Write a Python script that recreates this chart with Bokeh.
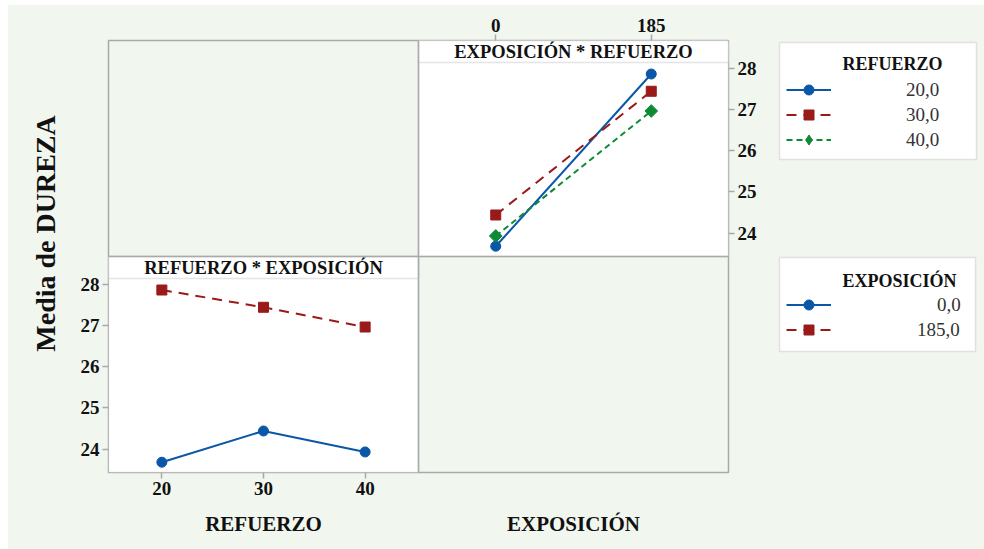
import math
from bokeh.plotting import figure
from bokeh.layouts import row, column
from bokeh.models import (Range1d, LinearAxis, FixedTicker, BoxAnnotation, Span,
                          Label, Legend, LegendItem)
from bokeh.embed import file_html
from bokeh.resources import INLINE

# ---------------- data ----------------
refuerzo = [20, 30, 40]
exposicion = [0, 185]
media_exp_0 = [23.68, 24.44, 23.93]      # mean DUREZA at EXPOSICIÓN = 0, per REFUERZO
media_exp_185 = [27.87, 27.45, 26.97]    # mean DUREZA at EXPOSICIÓN = 185, per REFUERZO
media_ticks = [24, 25, 26, 27, 28]
refuerzo_labels = ["20,0", "30,0", "40,0"]
exposicion_labels = ["0,0", "185,0"]

# ---------------- style ----------------
BG = "#f1f7ef"
GRAY = "#a9a9a9"
TXT = "#111111"
SERIF = "Liberation Serif"
colors = ["#0a57a8", "#9a1a1a", "#0c8a35"]
markers = ["circle", "square", "square"]
legend_markers = ["circle", "square", "diamond"]
msizes = [10, 10, 9]
legend_msizes = [10, 10, 13]
mangles = [0, 0, math.pi / 4]
dashes = ["solid", "10 7", "6 4"]
NAN = float("nan")

# sizes (px)
YW, MW, LW = 62, 700, 214          # widths: y-title strip, main plot, legend column
TOPH, XH = 500, 44                 # heights: main row, x-title strip
BL, BR, BT, BB = 38, 42, 35, 33    # main plot borders around the 2x2 frame
FH = TOPH - BT - BB                # frame height (432)
CELL_H = FH / 2
S = 22 / CELL_H                    # strip height in cell units

Y_LO, Y_HI = 23.43, 28.15
X1_LO, X1_HI = 14.75, 45.25        # REFUERZO panel
X2_LO, X2_HI = -91.9, 276.9        # EXPOSICIÓN panel


def blank(w, h, yr):
    f = figure(width=w, height=h, x_range=Range1d(0, w), y_range=Range1d(0, yr),
               x_axis_type=None, y_axis_type=None, toolbar_location=None,
               output_backend="svg", min_border=0)
    f.background_fill_color = BG
    f.border_fill_color = BG
    f.outline_line_color = None
    return f


# ---------------- main 2x2 plot ----------------
p = figure(width=MW, height=TOPH, x_range=Range1d(0, 2), y_range=Range1d(0, 2),
           x_axis_type=None, y_axis_type=None, toolbar_location=None,
           output_backend="svg",
           min_border_left=BL, min_border_right=BR,
           min_border_top=BT, min_border_bottom=BB)
p.background_fill_color = BG
p.border_fill_color = BG
p.outline_line_color = GRAY
p.outline_line_width = 1.5

k = (Y_HI - Y_LO) / (1 - S)
p.extra_y_ranges = {
    "top": Range1d(Y_LO - k, Y_HI + S * k),
    "bot": Range1d(Y_LO, Y_LO + 2 * k),
}
p.extra_x_ranges = {
    "left": Range1d(X1_LO, X1_HI + (X1_HI - X1_LO)),
    "right": Range1d(X2_LO - (X2_HI - X2_LO), X2_HI),
}

for (l, r, b, t) in [(1, 2, 1, 2), (0, 1, 0, 1)]:
    p.add_layout(BoxAnnotation(left=l, right=r, bottom=b, top=t, fill_color="white",
                               fill_alpha=1, line_color=GRAY, line_width=1.5,
                               level="underlay"))
    p.add_layout(BoxAnnotation(left=l, right=r, bottom=t - S, top=t, fill_color="white",
                               fill_alpha=1, line_color=GRAY, line_width=1.5,
                               level="underlay"))
p.add_layout(Span(location=1, dimension="height", line_color=GRAY, line_width=1.5))
p.add_layout(Span(location=1, dimension="width", line_color=GRAY, line_width=1.5))


def style_axis(ax):
    ax.axis_line_color = None
    ax.major_tick_line_color = GRAY
    ax.major_tick_line_width = 1.5
    ax.major_tick_out = 6
    ax.major_tick_in = 0
    ax.minor_tick_line_color = None
    ax.major_label_text_font = SERIF
    ax.major_label_text_font_style = "bold"
    ax.major_label_text_font_size = "19px"
    ax.major_label_text_color = TXT
    ax.major_label_standoff = 3


ax_left = LinearAxis(y_range_name="bot", ticker=FixedTicker(ticks=media_ticks))
ax_right = LinearAxis(y_range_name="top", ticker=FixedTicker(ticks=media_ticks))
ax_top = LinearAxis(x_range_name="right", ticker=FixedTicker(ticks=exposicion))
ax_bot = LinearAxis(x_range_name="left", ticker=FixedTicker(ticks=refuerzo))
for ax in (ax_left, ax_right, ax_top, ax_bot):
    style_axis(ax)
p.add_layout(ax_left, "left")
p.add_layout(ax_right, "right")
p.add_layout(ax_top, "above")
p.add_layout(ax_bot, "below")

# legend column (own figure; frame is aligned with the main frame)
lf = blank(LW, TOPH, FH)

items_ref = []
for i in range(len(refuerzo)):
    ys = [media_exp_0[i], media_exp_185[i]]
    p.line(exposicion, ys, x_range_name="right", y_range_name="top",
           line_color=colors[i], line_width=2, line_dash=dashes[i])
    p.scatter(exposicion, ys, x_range_name="right", y_range_name="top",
              marker=markers[i], size=msizes[i], angle=mangles[i],
              fill_color=colors[i], line_color=colors[i])
    # legend proxies (a single NaN point: nothing drawn in the plot area)
    ln = lf.line([NAN], [NAN], line_color=colors[i], line_width=2, line_dash=dashes[i])
    sc = lf.scatter([NAN], [NAN], marker=legend_markers[i], size=legend_msizes[i],
                    fill_color=colors[i], line_color=colors[i])
    items_ref.append(LegendItem(label=refuerzo_labels[i], renderers=[ln, sc]))

items_exp = []
series = [media_exp_0, media_exp_185]
for j in range(len(exposicion)):
    p.line(refuerzo, series[j], x_range_name="left", y_range_name="bot",
           line_color=colors[j], line_width=2, line_dash=dashes[j])
    p.scatter(refuerzo, series[j], x_range_name="left", y_range_name="bot",
              marker=markers[j], size=msizes[j], angle=mangles[j],
              fill_color=colors[j], line_color=colors[j])
    ln = lf.line([NAN], [NAN], line_color=colors[j], line_width=2, line_dash=dashes[j])
    sc = lf.scatter([NAN], [NAN], marker=legend_markers[j], size=legend_msizes[j],
                    fill_color=colors[j], line_color=colors[j])
    items_exp.append(LegendItem(label=exposicion_labels[j], renderers=[ln, sc]))

for txt, x, y in [("EXPOSICIÓN * REFUERZO", 1.5, 2 - S / 2),
                  ("REFUERZO * EXPOSICIÓN", 0.5, 1 - S / 2)]:
    p.add_layout(Label(x=x, y=y, text=txt, text_align="center", text_baseline="middle",
                       text_font=SERIF, text_font_style="bold", text_font_size="18.5px",
                       text_color=TXT))


def make_legend(items, loc, standoff):
    lg = Legend(items=items, location=loc)
    lg.label_text_font = SERIF
    lg.label_text_font_size = "19px"
    lg.label_text_color = "#333333"
    lg.glyph_width = 45
    lg.glyph_height = 25
    lg.label_height = 25
    lg.label_width = 10
    lg.label_standoff = standoff
    lg.spacing = 0
    lg.padding = 0
    lg.margin = 0
    lg.border_line_color = None
    lg.background_fill_alpha = 0
    return lg


# legend boxes and titles (lf coordinates: 1 unit = 1 px, origin at frame bottom-left)
for (l, r, b, t) in [(9, 206, 313, 430), (9, 205, 121, 215)]:
    lf.add_layout(BoxAnnotation(left=l, right=r, bottom=b, top=t, fill_color="white",
                                fill_alpha=1, line_color=GRAY, line_width=1.5,
                                level="underlay"))
for txt, y in [("REFUERZO", 409), ("EXPOSICIÓN", 192)]:
    lf.add_layout(Label(x=72, y=y, text=txt, text_align="left", text_baseline="middle",
                        text_font=SERIF, text_font_style="bold", text_font_size="18px",
                        text_color=TXT))
lf.add_layout(make_legend(items_ref, (16, 320), 75))
# EXPOSICIÓN legend: one legend per entry so that the labels end at the same edge
lf.add_layout(make_legend(items_exp[:1], (16, 155), 106))
lf.add_layout(make_legend(items_exp[1:], (16, 130), 86))

# y title (frame aligned with main frame)
yf = blank(YW, TOPH, FH)
yf.add_layout(Label(x=37, y=239, text="Media de DUREZA", angle=math.pi / 2,
                    text_align="center", text_baseline="middle", text_font=SERIF,
                    text_font_style="bold", text_font_size="28px", text_color=TXT))

# x titles
xf = blank(YW + MW + LW, XH, XH)
for txt, x in [("REFUERZO", 255), ("EXPOSICIÓN", 565)]:
    xf.add_layout(Label(x=x, y=26, text=txt, text_align="center", text_baseline="middle",
                        text_font=SERIF, text_font_style="bold", text_font_size="21px",
                        text_color=TXT))

layout = column(row(yf, p, lf, spacing=0, styles={"background-color": BG}), xf,
                spacing=0, margin=(5, 0, 0, 8), styles={"background-color": BG})

open("out.html", "w").write(file_html(layout, INLINE))
